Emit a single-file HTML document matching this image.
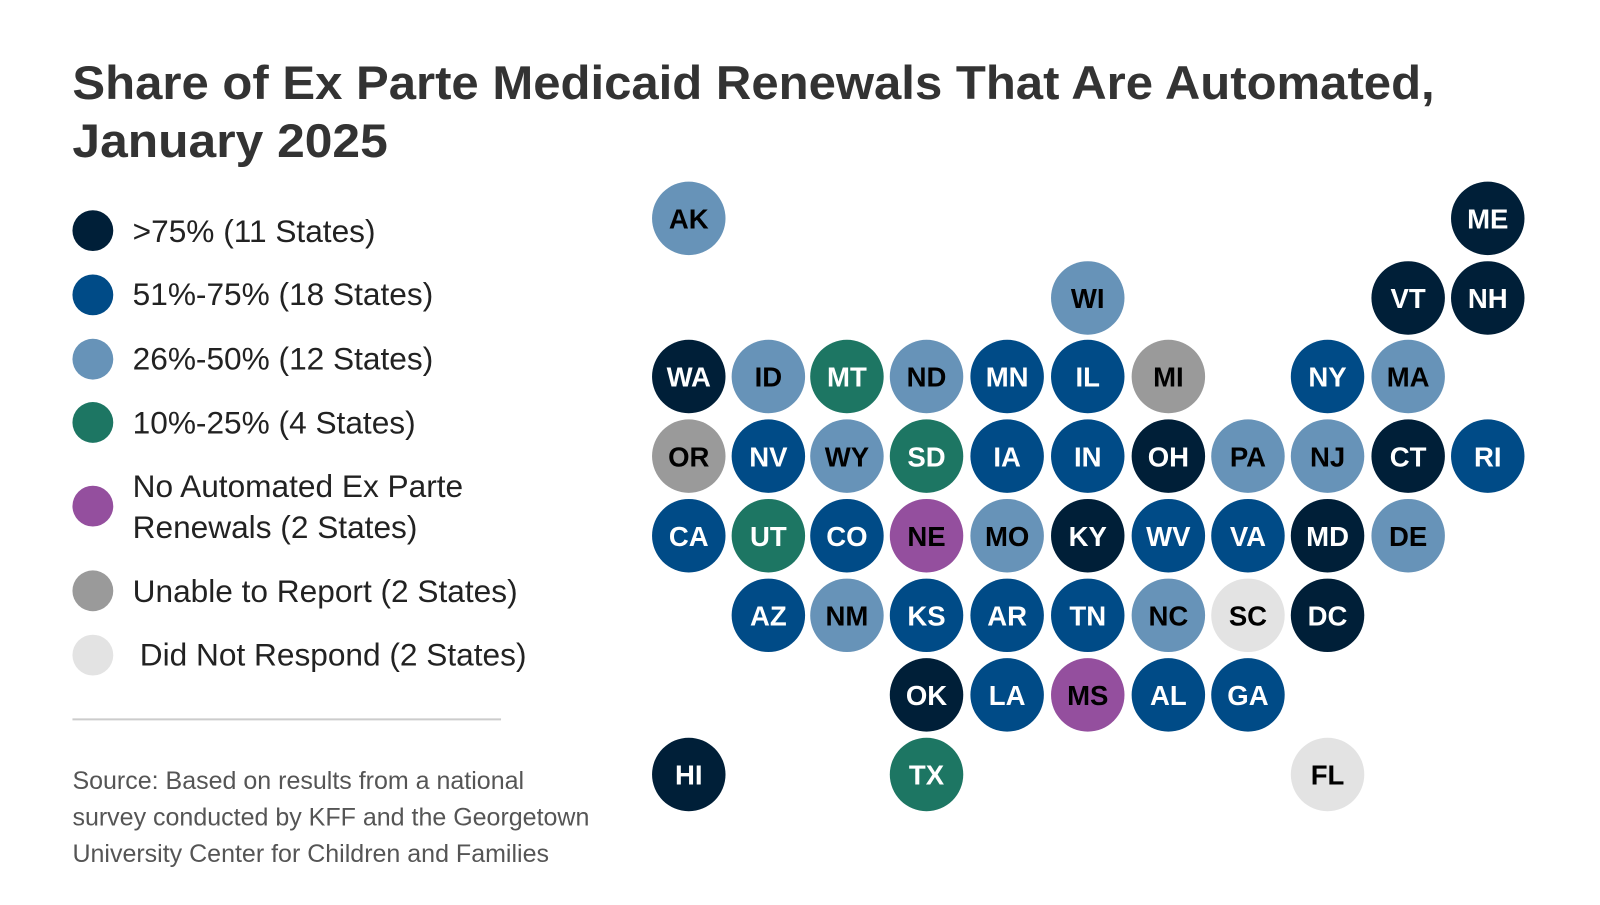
<!DOCTYPE html>
<html><head><meta charset="utf-8"><style>
body{margin:0;width:1600px;height:900px;background:#fff;font-family:"Liberation Sans",sans-serif;overflow:hidden}
</style></head><body>
<svg width="1600" height="900" viewBox="0 0 1568 882" xmlns="http://www.w3.org/2000/svg" font-family="Liberation Sans, sans-serif">
<text x="71" y="97" font-size="46" font-weight="bold" fill="#333" textLength="1335" lengthAdjust="spacingAndGlyphs">Share of Ex Parte Medicaid Renewals That Are Automated,</text>
<text x="71" y="154" font-size="46" font-weight="bold" fill="#333" textLength="309" lengthAdjust="spacingAndGlyphs">January 2025</text>
<g font-size="31" fill="#222">
<circle cx="91" cy="226" r="20" fill="#001f38"/><text x="130" y="237">&gt;75% (11 States)</text>
<circle cx="91" cy="289" r="20" fill="#004b87"/><text x="130" y="299">51%-75% (18 States)</text>
<circle cx="91" cy="352" r="20" fill="#6793b8"/><text x="130" y="362">26%-50% (12 States)</text>
<circle cx="91" cy="414" r="20" fill="#1d7663"/><text x="130" y="425">10%-25% (4 States)</text>
<circle cx="91" cy="496" r="20" fill="#944f9e"/><text x="130" y="487">No Automated Ex Parte</text><text x="130" y="527">Renewals (2 States)</text>
<circle cx="91" cy="579" r="20" fill="#9a9a9a"/><text x="130" y="590">Unable to Report (2 States)</text>
<circle cx="91" cy="642" r="20" fill="#e3e3e3"/><text x="137" y="652">Did Not Respond (2 States)</text>
</g>
<line x1="71" y1="705" x2="491" y2="705" stroke="#ccc" stroke-width="2"/>
<g font-size="24.5" fill="#555">
<text x="71" y="773">Source: Based on results from a national</text>
<text x="71" y="809">survey conducted by KFF and the Georgetown</text>
<text x="71" y="845">University Center for Children and Families</text>
</g>
<g id="m" font-size="27" font-weight="bold" text-anchor="middle"></g>
</svg>
<script>
var C={N:"#001f38",B:"#004b87",L:"#6793b8",G:"#1d7663",P:"#944f9e",R:"#9a9a9a",W:"#e3e3e3"};
var cx=[675,753,830,908,987,1066,1145,1223,1301,1380,1458],cy=[214,292,369,447,525,603,681,759];
var d=[["AK",0,0,"L"],["ME",0,10,"N"],["WI",1,5,"L"],["VT",1,9,"N"],["NH",1,10,"N"],
["WA",2,0,"N"],["ID",2,1,"L"],["MT",2,2,"G"],["ND",2,3,"L"],["MN",2,4,"B"],["IL",2,5,"B"],["MI",2,6,"R"],["NY",2,8,"B"],["MA",2,9,"L"],
["OR",3,0,"R"],["NV",3,1,"B"],["WY",3,2,"L"],["SD",3,3,"G"],["IA",3,4,"B"],["IN",3,5,"B"],["OH",3,6,"N"],["PA",3,7,"L"],["NJ",3,8,"L"],["CT",3,9,"N"],["RI",3,10,"B"],
["CA",4,0,"B"],["UT",4,1,"G"],["CO",4,2,"B"],["NE",4,3,"P"],["MO",4,4,"L"],["KY",4,5,"N"],["WV",4,6,"B"],["VA",4,7,"B"],["MD",4,8,"N"],["DE",4,9,"L"],
["AZ",5,1,"B"],["NM",5,2,"L"],["KS",5,3,"B"],["AR",5,4,"B"],["TN",5,5,"B"],["NC",5,6,"L"],["SC",5,7,"W"],["DC",5,8,"N"],
["OK",6,3,"N"],["LA",6,4,"B"],["MS",6,5,"P"],["AL",6,6,"B"],["GA",6,7,"B"],
["HI",7,0,"N"],["TX",7,3,"G"],["FL",7,8,"W"]];
var s="";d.forEach(function(e){var x=cx[e[2]],y=cy[e[1]],k=e[3];var t=(k=="N"||k=="B"||k=="G")?"#fff":"#000";
s+='<circle cx="'+x+'" cy="'+y+'" r="36" fill="'+C[k]+'"/><text x="'+x+'" y="'+(y+10)+'" fill="'+t+'">'+e[0]+'</text>';});
document.getElementById("m").innerHTML=s;
</script>
</body></html>
